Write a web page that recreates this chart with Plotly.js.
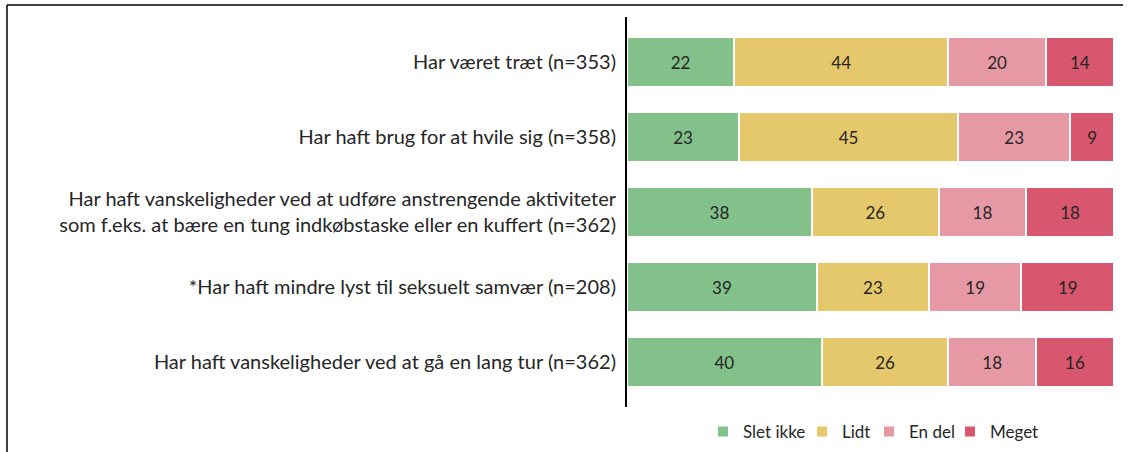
<!DOCTYPE html>
<html>
<head>
<meta charset="utf-8">
<script src="https://cdn.plot.ly/plotly-3.0.1.min.js"></script>
<style>
  html, body { margin: 0; padding: 0; background: #fff; }
  #chart { width: 1128px; height: 452px; }
</style>
</head>
<body>
<div id="chart"></div>
<script>
// Statements, top to bottom
const categories = [
  'Har været træt (n=353)',
  'Har haft brug for at hvile sig (n=358)',
  'Har haft vanskeligheder ved at udføre anstrengende aktiviteter<br>som f.eks. at bære en tung indkøbstaske eller en kuffert (n=362)',
  '*Har haft mindre lyst til seksuelt samvær (n=208)',
  'Har haft vanskeligheder ved at gå en lang tur (n=362)'
];

// Share of answers (%) per response level
const sletIkke = [22, 23, 38, 39, 40];
const lidt     = [44, 45, 26, 23, 26];
const enDel    = [20, 23, 18, 19, 18];
const meget    = [14,  9, 18, 19, 16];

const seriesNames  = ['Slet ikke', 'Lidt', 'En del', 'Meget'];
const seriesValues = [sletIkke, lidt, enDel, meget];
const seriesColors = ['#82C18A', '#E5C76C', '#E698A5', '#D9566F'];
// width reserved for each legend entry's text
const legendWidths = [54, 22, 36, 52];

const FONT = 'Lato, "Open Sans", sans-serif';
const W = 1128, H = 452;
const M = { l: 627, r: 14, t: 17, b: 45 };
const plotW = W - M.l - M.r;
const plotH = H - M.t - M.b;

// pixel -> paper helpers for the outer frame and legend
const px = x => (x - M.l) / plotW;
const py = y => (H - M.b - y) / plotH;

const traces = seriesValues.map((vals, i) => ({
  type: 'bar',
  orientation: 'h',
  name: seriesNames[i],
  y: categories,
  x: vals,
  text: vals.map(String),
  textposition: 'inside',
  insidetextanchor: 'middle',
  textangle: 0,
  constraintext: 'none',
  textfont: { family: FONT, size: 17, color: '#262626' },
  marker: { color: seriesColors[i], line: { color: '#ffffff', width: 2 } },
  legendwidth: legendWidths[i],
  hoverinfo: 'name+x'
}));

const layout = {
  width: W,
  height: H,
  paper_bgcolor: '#ffffff',
  plot_bgcolor: '#ffffff',
  barmode: 'stack',
  bargap: 0.333,
  margin: { l: M.l, r: M.r, t: M.t, b: M.b, pad: 0, autoexpand: false },
  font: { family: FONT, size: 17, color: '#262626' },
  xaxis: {
    range: [0, 100],
    showgrid: false, zeroline: false, showline: false,
    showticklabels: false, ticks: '', fixedrange: true
  },
  yaxis: {
    type: 'category',
    categoryorder: 'array',
    categoryarray: categories,
    range: [4.6, -0.6],
    showgrid: false, zeroline: false,
    showline: true, linecolor: '#000000', linewidth: 2,
    ticks: '', ticklabelstandoff: 5,
    automargin: false,
    tickfont: { family: FONT, size: 20, color: '#262626' },
    fixedrange: true
  },
  showlegend: true,
  legend: {
    orientation: 'h',
    x: px(703), xanchor: 'left',
    y: py(432), yanchor: 'middle',
    font: { family: FONT, size: 17, color: '#262626' },
    itemwidth: 30,
    traceorder: 'normal'
  },
  shapes: [
    // outer frame: top and left edges
    { type: 'line', xref: 'paper', yref: 'paper',
      x0: px(7), x1: px(1123), y0: py(5), y1: py(5),
      line: { color: '#000000', width: 1.5 } },
    { type: 'line', xref: 'paper', yref: 'paper',
      x0: px(7), x1: px(7), y0: py(5), y1: py(460),
      line: { color: '#000000', width: 1.5 } }
  ]
};

Plotly.newPlot('chart', traces, layout, { displayModeBar: false, staticPlot: true });
</script>
</body>
</html>
